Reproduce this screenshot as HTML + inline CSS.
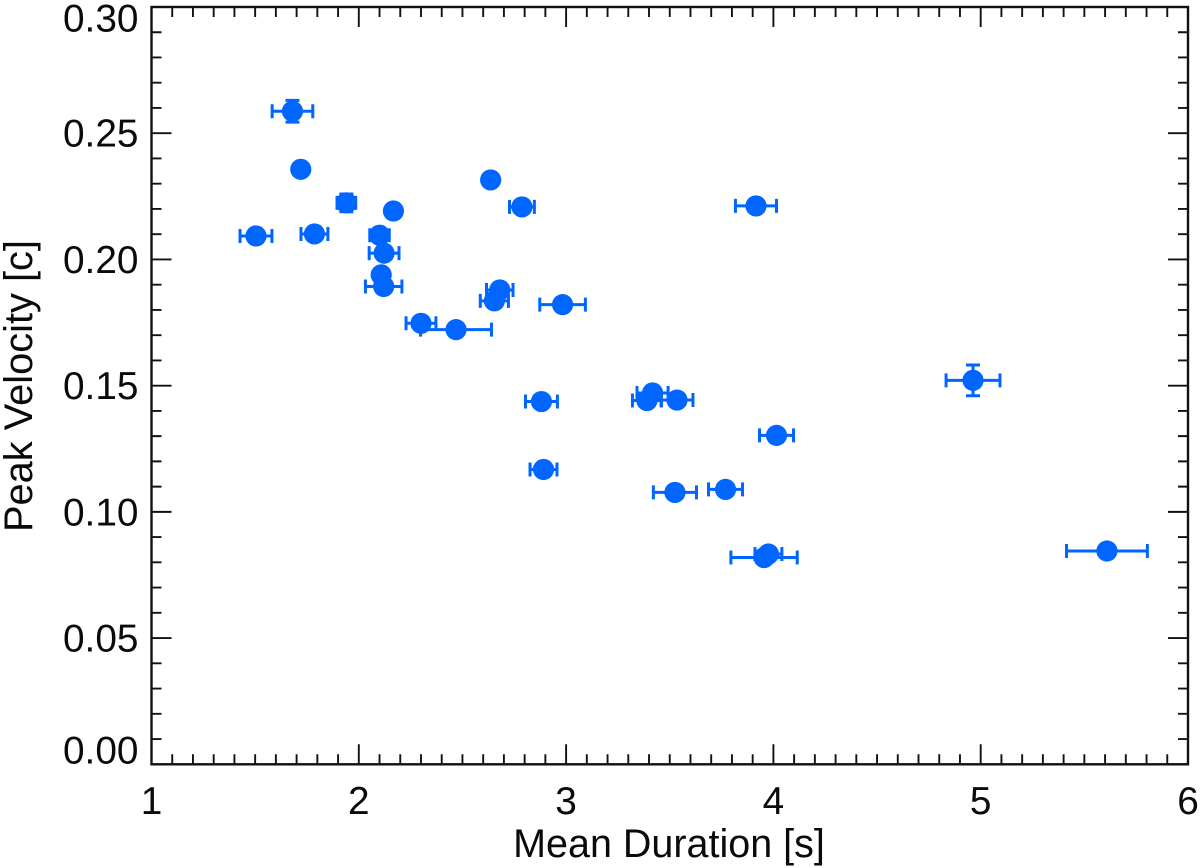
<!DOCTYPE html>
<html>
<head>
<meta charset="utf-8">
<title>Peak Velocity vs Mean Duration</title>
<style>
html,body{margin:0;padding:0;background:#fff;}
svg{display:block;}
text{font-family:"Liberation Sans",sans-serif;fill:#0a0a0a;}
</style>
</head>
<body>
<svg id="chart" width="1200" height="868" viewBox="0 0 1200 868" xmlns="http://www.w3.org/2000/svg">
  <rect width="1200" height="868" fill="#ffffff"/>
  <g id="marks"></g>
  <g id="axes"></g>
  <text x="669" y="857" font-size="39.5" text-anchor="middle">Mean Duration [s]</text>
  <text transform="translate(32,386) rotate(-90)" font-size="39.8" text-anchor="middle">Peak Velocity [c]</text>
</svg>
<script>
const durations = [1.68,1.72,1.94,1.504,1.786,2.167,2.10,2.122,2.108,2.12,2.30,2.469,2.68,2.654,2.983,2.636,2.787,3.916,2.881,2.891,3.417,3.39,3.535,3.525,3.769,4.015,4.963,3.976,3.955,5.609];
const velocities = [0.2587,0.2357,0.2224,0.2093,0.2101,0.2192,0.2096,0.2025,0.1939,0.1893,0.1747,0.1722,0.1879,0.1836,0.1821,0.2315,0.2208,0.2212,0.1437,0.1168,0.1471,0.1441,0.1443,0.1077,0.1089,0.1303,0.1521,0.0833,0.0819,0.0845];
const durationErrors = [0.098,0,0.045,0.077,0.065,0,0.047,0.072,0,0.088,0.072,0.171,0.064,0.068,0.11,0,0.06,0.099,0.077,0.065,0.075,0.07,0.077,0.104,0.082,0.082,0.13,0.065,0.16,0.195];
const velocityErrors = [0.0043,0,0.0035,0,0,0,0,0,0,0,0,0,0,0,0,0,0,0,0,0,0,0,0,0,0,0,0.0061,0,0,0];
const xTickLabels = ["1","2","3","4","5","6"];
const yTickLabels = ["0.00","0.05","0.10","0.15","0.20","0.25","0.30"];

const NS = "http://www.w3.org/2000/svg";
const plot = {left:151.5, right:1188, top:7, bottom:764.3};
const xMin = 1, xMax = 6, yMin = 0, yMax = 0.30;
const color = "#0066ff";

function xScale(v){ return plot.left + (v - xMin) / (xMax - xMin) * (plot.right - plot.left); }
function yScale(v){ return plot.bottom - (v - yMin) / (yMax - yMin) * (plot.bottom - plot.top); }

function make(parent, tag, attrs){
  const el = document.createElementNS(NS, tag);
  for (const k in attrs) el.setAttribute(k, attrs[k]);
  parent.appendChild(el);
  return el;
}

const marks = document.getElementById("marks");
const axes = document.getElementById("axes");
const errStyle = {stroke:color, "stroke-width":3, fill:"none"};

durations.forEach(function(d, i){
  const g = make(marks, "g", {});
  
  
  const cx = xScale(d), cy = yScale(velocities[i]);
  const ex = durationErrors[i], ey = velocityErrors[i];
  if (ex > 0) {
    const x0 = xScale(d - ex), x1 = xScale(d + ex);
    const bar = make(g, "path", Object.assign({d:"M"+x0+" "+cy+"H"+x1+"M"+x0+" "+(cy-7)+"V"+(cy+7)+"M"+x1+" "+(cy-7)+"V"+(cy+7)}, errStyle));
    
    
  }
  if (ey > 0) {
    const y0 = yScale(velocities[i] - ey), y1 = yScale(velocities[i] + ey);
    const bar = make(g, "path", Object.assign({d:"M"+cx+" "+y0+"V"+y1+"M"+(cx-7)+" "+y0+"H"+(cx+7)+"M"+(cx-7)+" "+y1+"H"+(cx+7)}, errStyle));
    
    
  }
  const dot = make(g, "circle", {cx:cx, cy:cy, r:10.6, fill:color});
  
  
});

const frame = make(axes, "rect", {x:plot.left, y:plot.top, width:plot.right-plot.left, height:plot.bottom-plot.top, fill:"none", stroke:"#111", "stroke-width":2.4});



// x ticks: every 0.1 with a long tick at each integer, mirrored on top
let xd = "";
for (let i = 0; i <= 50; i++) {
  const v = xMin + i * 0.1, x = xScale(v), len = i % 10 === 0 ? 20 : 10;
  xd += "M"+x+" "+plot.bottom+"V"+(plot.bottom-len)+"M"+x+" "+plot.top+"V"+(plot.top+len);
}
const xTicks = make(axes, "path", {d:xd, stroke:"#111", "stroke-width":1.9, fill:"none"});



// y ticks: every 0.01 with a long tick at each 0.05, mirrored on right
let yd = "";
for (let i = 0; i <= 30; i++) {
  const v = yMin + i * 0.01, y = yScale(v), len = i % 5 === 0 ? 20 : 10;
  yd += "M"+plot.left+" "+y+"H"+(plot.left+len)+"M"+plot.right+" "+y+"H"+(plot.right-len);
}
const yTicks = make(axes, "path", {d:yd, stroke:"#111", "stroke-width":1.9, fill:"none"});



xTickLabels.forEach(function(label){
  const t = make(axes, "text", {x:xScale(parseFloat(label)), y:814, "font-size":38.8, "text-anchor":"middle"});
  t.textContent = label;
  
  
});

yTickLabels.forEach(function(label){
  const center = Math.min(750, Math.max(18, yScale(parseFloat(label))));
  const t = make(axes, "text", {x:138.5, y:center+13.5, "font-size":38.8, "text-anchor":"end"});
  t.textContent = label;
  
  
});
</script>
</body>
</html>
